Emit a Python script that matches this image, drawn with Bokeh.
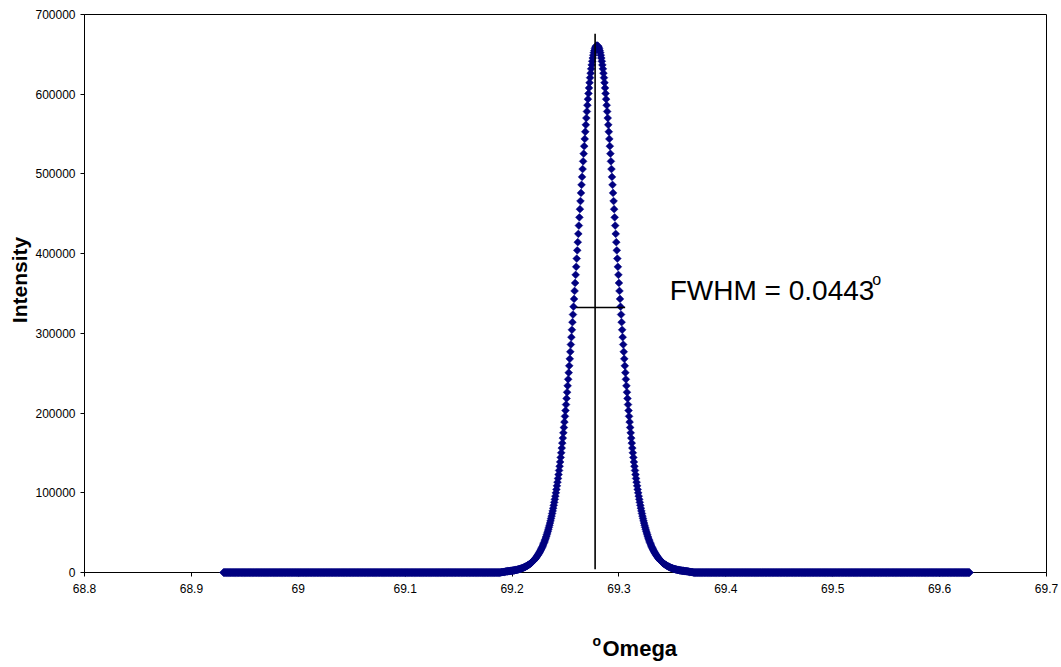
import math
from bokeh.plotting import figure
from bokeh.layouts import column, row
from bokeh.models import Range1d, FixedTicker, CustomJSTickFormatter, Label
from bokeh.core.properties import value
from bokeh.embed import file_html
from bokeh.resources import INLINE

# ---- data ----
OMEGA_START = 68.930   # first scan position (deg)
OMEGA_STEP = 0.0005    # scan step (deg)

BASE_LEFT = [0] * 519
PEAK = [
    200, 300, 400, 500, 600, 700, 800, 900, 1100, 1200,
    1400, 1400, 1500, 1600, 1600, 1700, 1800, 1900, 2000, 2100,
    2200, 2300, 2400, 2500, 2600, 2700, 2900, 3000, 3100, 3300,
    3400, 3600, 3800, 3900, 4100, 4300, 4500, 4800, 5000, 5200,
    5500, 5700, 6000, 6300, 6600, 6900, 7300, 7600, 8000, 8400,
    8800, 9200, 9700, 10100, 10600, 11100, 11700, 12200, 12800, 13400,
    14100, 14800, 15500, 16300, 17000, 17900, 18700, 19600, 20600, 21600,
    22600, 23700, 24800, 26000, 27300, 28600, 29900, 31300, 32800, 34400,
    36000, 37700, 39500, 41300, 43300, 45300, 47400, 49600, 51900, 54300,
    56700, 59300, 62000, 64900, 67800, 70800, 74000, 77300, 80700, 84300,
    88000, 91800, 95800, 99900, 104200, 108700, 113300, 118000, 122900, 128000,
    133300, 138700, 144400, 150200, 156100, 162300, 168600, 175200, 181900, 188800,
    195900, 203200, 210600, 218300, 226100, 234200, 242400, 250700, 259300, 268000,
    276900, 286000, 295200, 304500, 314000, 323600, 333400, 343200, 353200, 363200,
    373400, 383500, 393800, 404100, 414400, 424800, 435200, 445500, 455800, 466000,
    476200, 486300, 496300, 506100, 515800, 525400, 534800, 543900, 552900, 561600,
    570100, 578300, 586200, 593800, 601000, 607900, 614500, 620700, 626400, 631800,
    636800, 641300, 645400, 649000, 652200, 654800, 657100, 658800, 660000, 660800,
    661000,
    660800, 660000, 658800, 657100, 654800, 652200, 649000, 645400, 641300, 636800,
    631800, 626400, 620700, 614500, 607900, 601000, 593800, 586200, 578300, 570100,
    561600, 552900, 543900, 534800, 525400, 515800, 506100, 496300, 486300, 476200,
    466000, 455800, 445500, 435200, 424800, 414400, 404100, 393800, 383500, 373400,
    363200, 353200, 343200, 333400, 323600, 314000, 304500, 295200, 286000, 276900,
    268000, 259300, 250700, 242400, 234200, 226100, 218300, 210600, 203200, 195900,
    188800, 181900, 175200, 168600, 162300, 156100, 150200, 144400, 138700, 133300,
    128000, 122900, 118000, 113300, 108700, 104200, 99900, 95800, 91800, 88000,
    84300, 80700, 77300, 74000, 70800, 67800, 64900, 62000, 59300, 56700,
    54300, 51900, 49600, 47400, 45300, 43300, 41300, 39500, 37700, 36000,
    34400, 32800, 31300, 29900, 28600, 27300, 26000, 24800, 23700, 22600,
    21600, 20600, 19600, 18700, 17900, 17000, 16300, 15500, 14800, 14100,
    13400, 12800, 12200, 11700, 11100, 10600, 10100, 9700, 9200, 8800,
    8400, 8000, 7600, 7300, 6900, 6600, 6300, 6000, 5700, 5500,
    5200, 5000, 4800, 4500, 4300, 4100, 3900, 3800, 3600, 3400,
    3300, 3100, 3000, 2900, 2700, 2600, 2500, 2400, 2300, 2200,
    2100, 2000, 1900, 1800, 1700, 1600, 1600, 1500, 1400, 1400,
    1200, 1100, 900, 800, 700, 600, 500, 400, 300, 200,
]
BASE_RIGHT = [0] * 517

intensity = BASE_LEFT + PEAK + BASE_RIGHT
omega = [round(OMEGA_START + i * OMEGA_STEP, 4) for i in range(len(intensity))]

# peak-position marker and FWHM bar
CENTER_LINE_X = [69.2777, 69.2777]
CENTER_LINE_Y = [4000, 676000]
FWHM_LINE_X = [69.2600, 69.3058]
FWHM_LINE_Y = [332400, 332400]
FWHM_TEXT = "FWHM = 0.0443"

X_TICKS = [68.8, 68.9, 69.0, 69.1, 69.2, 69.3, 69.4, 69.5, 69.6, 69.7]
Y_TICKS = [0, 100000, 200000, 300000, 400000, 500000, 600000, 700000]

FONT = "Liberation Sans"

W, H = 1061, 667
LEFT_W = 32
BOTTOM_H = 47
MAIN_W = W - LEFT_W
MAIN_H = H - BOTTOM_H

p = figure(width=MAIN_W, height=MAIN_H, output_backend="svg", toolbar_location=None,
           x_range=Range1d(68.8, 69.7), y_range=Range1d(0, 700000),
           min_border_left=51, min_border_right=15, min_border_top=14,
           min_border_bottom=48)
p.background_fill_color = "white"
p.border_fill_color = "white"
p.outline_line_color = "black"
p.outline_line_width = 1
p.grid.visible = False

for ax in (p.xaxis[0], p.yaxis[0]):
    ax.axis_line_color = "black"
    ax.major_tick_line_color = "black"
    ax.major_tick_in = 0
    ax.major_tick_out = 4
    ax.minor_tick_line_color = None
    ax.major_label_text_font = FONT
    ax.major_label_text_font_size = "12px"
    ax.major_label_text_color = "black"

p.xaxis.ticker = FixedTicker(ticks=X_TICKS)
p.yaxis.ticker = FixedTicker(ticks=Y_TICKS)
p.xaxis.formatter = CustomJSTickFormatter(code="return Number(tick.toFixed(1)).toString();")
p.yaxis.formatter = CustomJSTickFormatter(code="return Math.round(tick).toString();")
p.xaxis.major_label_standoff = 7
p.yaxis.major_label_standoff = 5

r = p.scatter(omega, intensity, marker="square", angle=math.pi / 4, size=5.5,
              fill_color="#000080", line_color="#000080", line_width=0.5)
r.level = "overlay"

l1 = p.line(CENTER_LINE_X, CENTER_LINE_Y, line_color="black", line_width=1.6)
l2 = p.line(FWHM_LINE_X, FWHM_LINE_Y, line_color="black", line_width=1.6)
l1.level = "overlay"
l2.level = "overlay"

p.add_layout(Label(x=69.3475, y=354100, text=FWHM_TEXT, text_font=FONT,
                   text_font_size="28px", text_color="black",
                   text_baseline="alphabetic", text_align="left"))
p.add_layout(Label(x=69.5370, y=367000, text="o", text_font=FONT,
                   text_font_size="16px", text_color="black",
                   text_baseline="alphabetic", text_align="left"))

# ---- axis titles drawn in thin strips (coordinates = page pixels) ----
def strip(width, height, x0, x1, y0, y1):
    s = figure(width=width, height=height, output_backend="svg",
               toolbar_location=None, x_axis_type=None, y_axis_type=None,
               x_range=Range1d(x0, x1), y_range=Range1d(y0, y1),
               min_border_left=0, min_border_right=0, min_border_top=0,
               min_border_bottom=0)
    s.outline_line_color = None
    s.grid.visible = False
    s.background_fill_color = "white"
    s.border_fill_color = "white"
    return s

left = strip(LEFT_W, MAIN_H, 0, LEFT_W, MAIN_H, 0)
left.text(x=[19], y=[295], text=["Intensity"], angle=math.pi / 2,
          text_font=value(FONT), text_font_style="bold", text_font_size="21px",
          text_color="black", text_align="center", text_baseline="middle")

bottom = strip(W, BOTTOM_H, 0, W, H, MAIN_H)
bottom.text(x=[602], y=[648], text=["Omega"], text_font=value(FONT),
            text_font_style="bold", text_font_size="22px", text_color="black",
            text_align="left", text_baseline="middle")
bottom.text(x=[592], y=[640], text=["o"], text_font=value(FONT),
            text_font_style="bold", text_font_size="14px", text_color="black",
            text_align="left", text_baseline="middle")

layout = column(row(left, p), bottom)
open("out.html", "w").write(file_html(layout, INLINE))
